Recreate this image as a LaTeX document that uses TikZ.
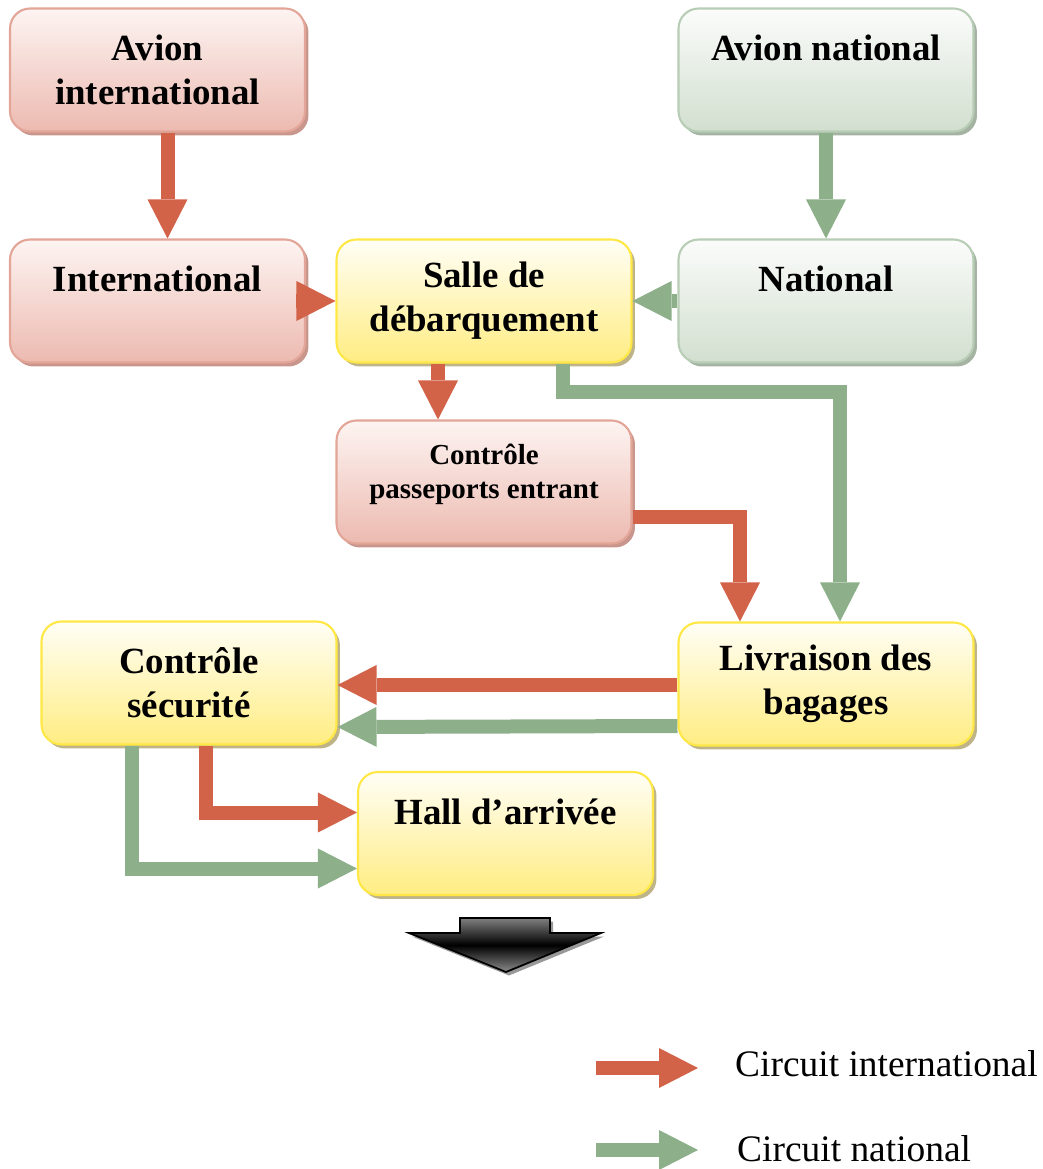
\documentclass[tikz,border=0pt]{standalone}
\usepackage{fontspec}
\setmainfont{Liberation Serif}
\usetikzlibrary{arrows.meta,calc,shadows}
\definecolor{arrred}{RGB}{210,99,73}
\definecolor{arrgreen}{RGB}{141,176,139}
\definecolor{pinkline}{RGB}{227,165,151}
\definecolor{pinktop}{RGB}{253,244,242}
\definecolor{pinkbot}{RGB}{236,186,176}
\definecolor{pinkshade}{RGB}{200,150,140}
\definecolor{yelline}{RGB}{255,232,70}
\definecolor{yeltop}{RGB}{255,254,246}
\definecolor{yelbot}{RGB}{255,237,130}
\definecolor{yelshade}{RGB}{190,180,135}
\definecolor{grnline}{RGB}{184,205,181}
\definecolor{grntop}{RGB}{251,252,251}
\definecolor{grnbot}{RGB}{210,223,207}
\definecolor{grnshade}{RGB}{165,180,162}
\begin{document}
\begin{tikzpicture}[x=0.02cm, y=-0.02cm,
  box/.style={draw, rounded corners=0.4cm, align=center, minimum width=5.9cm, minimum height=2.46cm,
    line width=1.2pt, font=\fontsize{21}{25}\selectfont\bfseries},
  intbox/.style={box, draw=pinkline, top color=pinktop, bottom color=pinkbot,
    general shadow={fill=pinkshade, shadow xshift=0.07cm, shadow yshift=-0.08cm}},
  natbox/.style={box, draw=grnline, top color=grntop, bottom color=grnbot,
    general shadow={fill=grnshade, shadow xshift=0.07cm, shadow yshift=-0.08cm}},
  hallbox/.style={box, draw=yelline, top color=yeltop, bottom color=yelbot,
    general shadow={fill=yelshade, shadow xshift=0.07cm, shadow yshift=-0.08cm}},
  redarrow/.style={draw=arrred, line width=0.28cm, -{Triangle[width=0.8cm, length=0.78cm, line width=0pt]}},
  greenarrow/.style={draw=arrgreen, line width=0.28cm, -{Triangle[width=0.8cm, length=0.78cm, line width=0pt]}},
  legend/.style={anchor=base west, font=\fontsize{21.3}{25}\selectfont}
]
\useasboundingbox (0,0) rectangle (1043,1169);
% boxes
\node[intbox] (avionint) at (157.5,70) {Avion\\international};
\node[natbox] (avionnat) at (826,70) {Avion national\\\mbox{}};
\node[intbox] (intl) at (157.5,301) {International\\\mbox{}};
\node[hallbox] (salle) at (484,301) {Salle de\\débarquement};
\node[natbox] (nat) at (826,301) {National\\\mbox{}};
\node[intbox, font=\fontsize{16.5}{19.5}\selectfont\bfseries] (passe) at (484,482) {Contrôle\\passeports entrant\\[-7pt]\mbox{}};
\node[hallbox] (secu) at (189,683) {Contrôle\\sécurité};
\node[hallbox] (livr) at (826,684) {Livraison des\\bagages};
\node[hallbox] (hall) at (505.5,833.5) {Hall d’arrivée\\\mbox{}};
% circuits
\draw[redarrow] ($(avionint.south)+(10,0)$) -- ($(intl.north)+(10,0)$);
\draw[greenarrow] (avionnat) -- (nat);
\draw[redarrow] ($(intl.east)+(-10,0)$) -- (salle.west);
\draw[greenarrow] (nat.west) -- (salle.east);
\draw[redarrow] ($(salle.south)+(-46,0)$) -- ($(passe.north)+(-46,0)$);
\draw[greenarrow] ($(salle.south)+(79,0)$) -- ++(0,28) -| ($(livr.north)+(14,0)$);
\draw[redarrow] ($(passe.east)+(0,35)$) -| ($(livr.north)+(-86,0)$);
\draw[redarrow] ($(livr.west)+(0,1)$) -- ($(secu.east)+(0,2)$);
\draw[greenarrow] ($(livr.west)+(0,42)$) -- ($(secu.east)+(0,44)$);
\draw[redarrow] ($(secu.south)+(17,0)$) |- ($(hall.west)+(0,-21)$);
\draw[greenarrow] ($(secu.south)+(-57,0)$) |- ($(hall.west)+(0,35)$);
% exit arrow
\fill[black!40, xshift=0.06cm, yshift=-0.07cm] (460,918) -- (550,918) -- (550,933) -- (601,933) -- (506,972) -- (409,933) -- (460,933) -- cycle;
\draw[line width=1pt, top color=black!50, bottom color=black!45, middle color=black]
  (460,918) -- (550,918) -- (550,933) -- (601,933) -- (506,972) -- (409,933) -- (460,933) -- cycle;
% legend
\node[legend] (legint) at (729,1076) {Circuit international};
\node[legend] (legnat) at (731,1161) {Circuit national};
\coordinate (legintA) at (596,1068);
\coordinate (legintB) at (698,1068);
\coordinate (legnatA) at (596,1150);
\coordinate (legnatB) at (698,1150);
\draw[redarrow] (legintA) -- (legintB);
\draw[greenarrow] (legnatA) -- (legnatB);
\end{tikzpicture}
\end{document}
